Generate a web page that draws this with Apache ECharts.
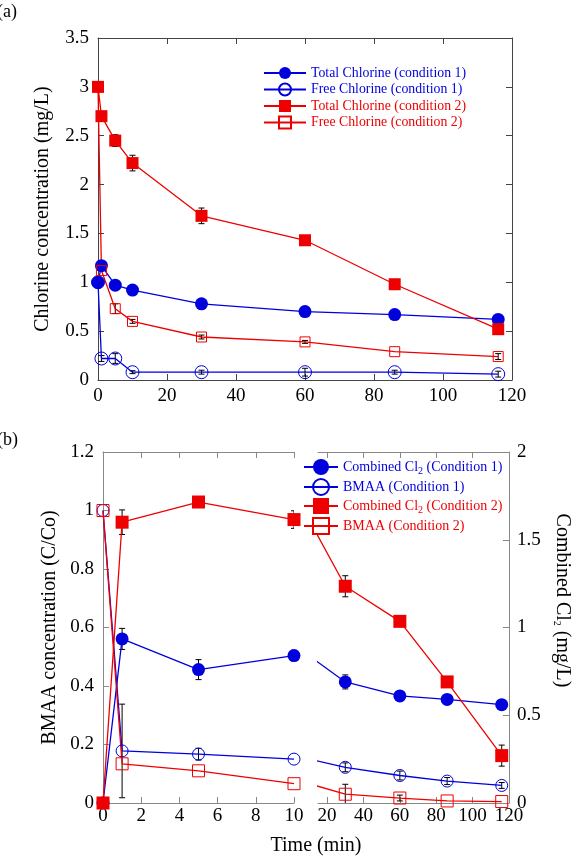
<!DOCTYPE html>
<html>
<head>
<meta charset="utf-8">
<script src="https://cdn.jsdelivr.net/npm/echarts@6/dist/echarts.min.js"></script>
<style>
  html, body { margin: 0; padding: 0; background: #fff; }
  #chart { width: 576px; height: 859px; }
</style>
</head>
<body>
<div id="chart"></div>
<script>
// ---- panel (a): chlorine decay ----
const timeA = [0, 1, 5, 10, 30, 60, 86, 116];
const totalCl1 = [1.0, 1.17, 0.97, 0.92, 0.78, 0.70, 0.67, 0.62];
const freeCl1 = [1.0, 0.22, 0.22, 0.08, 0.08, 0.08, 0.08, 0.06];
const totalCl2 = [3.0, 2.70, 2.45, 2.22, 1.68, 1.43, 0.98, 0.52];
const freeCl2 = [3.0, 1.12, 0.73, 0.60, 0.44, 0.39, 0.29, 0.24];
const errTotalCl1 = [0, 0, 0, 0, 0, 0, 0, 0];
const errFreeCl1 = [0, 0.03, 0.05, 0.015, 0.02, 0.04, 0.02, 0.03];
const errTotalCl2 = [0, 0, 0.06, 0.08, 0.08, 0.03, 0, 0];
const errFreeCl2 = [0, 0, 0.05, 0.02, 0.02, 0.015, 0, 0.03];

// ---- panel (b): BMAA and combined chlorine ----
const timeB = [0, 1, 5, 10, 30, 60, 86, 116];
const combCl1 = [0, 0.935, 0.76, 0.84, 0.69, 0.61, 0.59, 0.56];
const bmaa1 = [1.0, 0.178, 0.167, 0.15, 0.122, 0.094, 0.075, 0.06];
const combCl2 = [0, 1.60, 1.715, 1.615, 1.235, 1.035, 0.69, 0.27];
const bmaa2 = [1.0, 0.134, 0.11, 0.066, 0.03, 0.017, 0.007, 0.005];
const errCombCl1 = [0, 0.06, 0.057, 0.03, 0.04, 0, 0, 0];
const errBmaa1 = [0, 0.16, 0.02, 0, 0.015, 0.015, 0.012, 0.01];
const errCombCl2 = [0, 0.07, 0, 0.05, 0.06, 0.02, 0, 0.06];
const errBmaa2 = [0, 0, 0, 0, 0.034, 0.01, 0, 0];

const ticksBRight = [20, 40, 60, 80, 100, 120];

const BLUE = '#0000dd';
const RED = '#ee0000';
const FONT = 'Liberation Serif';
const AX_A = '#444';
const AX_B = '#888';

const myChart = echarts.init(document.getElementById('chart'));

// error bar drawing
function errRender(params, api) {
  const x = api.value(0);
  const lo = api.coord([x, api.value(1)]);
  const hi = api.coord([x, api.value(2)]);
  const w = 3;
  const st = { stroke: '#000', lineWidth: 1 };
  return {
    type: 'group',
    children: [
      { type: 'line', shape: { x1: lo[0], y1: lo[1], x2: hi[0], y2: hi[1] }, style: st },
      { type: 'line', shape: { x1: lo[0] - w, y1: lo[1], x2: lo[0] + w, y2: lo[1] }, style: st },
      { type: 'line', shape: { x1: hi[0] - w, y1: hi[1], x2: hi[0] + w, y2: hi[1] }, style: st }
    ]
  };
}

function pick(xs, ys, test) {
  const out = [];
  xs.forEach((x, i) => { if (test(x)) out.push([x, ys[i]]); });
  return out;
}

function errSeries(xs, ys, errs, xi, yi, test) {
  const data = [];
  xs.forEach((x, i) => {
    if (errs[i] > 0 && (!test || test(x))) data.push([x, ys[i] - errs[i], ys[i] + errs[i]]);
  });
  return {
    type: 'custom', xAxisIndex: xi, yAxisIndex: yi, z: 1, silent: true, clip: true,
    renderItem: errRender, encode: { x: 0, y: [1, 2] }, data: data
  };
}

// marker styles
function mk(kind, color, size) {
  const filled = kind === 'fc' || kind === 'fs';
  return {
    symbol: (kind === 'fc' || kind === 'oc') ? 'circle' : 'rect',
    symbolSize: size,
    itemStyle: filled ? { color: color } : { color: 'transparent', borderColor: color, borderWidth: 1 },
    lineStyle: { color: color, width: 1.3 }
  };
}

function lineS(name, data, xi, yi, style) {
  return Object.assign({
    type: 'line', name: name, data: data, xAxisIndex: xi, yAxisIndex: yi,
    clip: true, z: 2, animation: false
  }, style);
}

const L1 = x => x <= 10;
const R1 = x => x >= 10;

const series = [
  // panel (a)
  lineS('Total Chlorine (condition 1)', pick(timeA, totalCl1, () => true), 0, 0, mk('fc', BLUE, 13)),
  lineS('Free Chlorine (condition 1)', pick(timeA, freeCl1, () => true), 0, 0, mk('oc', BLUE, 13)),
  lineS('Total Chlorine (condition 2)', pick(timeA, totalCl2, () => true), 0, 0, mk('fs', RED, 12)),
  lineS('Free Chlorine (condition 2)', pick(timeA, freeCl2, () => true), 0, 0, mk('os', RED, 10)),
  errSeries(timeA, totalCl1, errTotalCl1, 0, 0),
  errSeries(timeA, freeCl1, errFreeCl1, 0, 0),
  errSeries(timeA, totalCl2, errTotalCl2, 0, 0),
  errSeries(timeA, freeCl2, errFreeCl2, 0, 0),

  // panel (b), left segment 0-10 min
  lineS('Combined Cl2 (Condition 1)', pick(timeB, combCl1, L1), 2, 3, mk('fc', BLUE, 13)),
  lineS('BMAA (Condition 1)', pick(timeB, bmaa1, L1), 2, 2, mk('oc', BLUE, 12)),
  lineS('Combined Cl2 (Condition 2)', pick(timeB, combCl2, L1), 2, 3, mk('fs', RED, 13)),
  lineS('BMAA (Condition 2)', pick(timeB, bmaa2, L1), 2, 2, mk('os', RED, 12)),
  errSeries(timeB, combCl1, errCombCl1, 2, 3, L1),
  errSeries(timeB, bmaa1, errBmaa1, 2, 2, L1),
  errSeries(timeB, combCl2, errCombCl2, 2, 3, L1),
  errSeries(timeB, bmaa2, errBmaa2, 2, 2, L1),

  // panel (b), right segment 20-120 min (line from 10 clipped at the break)
  lineS('Combined Cl2 (Condition 1)', pick(timeB, combCl1, R1), 4, 5, mk('fc', BLUE, 13)),
  lineS('BMAA (Condition 1)', pick(timeB, bmaa1, R1), 4, 4, mk('oc', BLUE, 12)),
  lineS('Combined Cl2 (Condition 2)', pick(timeB, combCl2, R1), 4, 5, mk('fs', RED, 13)),
  lineS('BMAA (Condition 2)', pick(timeB, bmaa2, R1), 4, 4, mk('os', RED, 12)),
  errSeries(timeB, combCl1, errCombCl1, 4, 5, x => x > 10),
  errSeries(timeB, bmaa1, errBmaa1, 4, 4, x => x > 10),
  errSeries(timeB, combCl2, errCombCl2, 4, 5, x => x > 10),
  errSeries(timeB, bmaa2, errBmaa2, 4, 4, x => x > 10)
];

function xAx(grid, pos, min, max, color, opts) {
  return Object.assign({
    type: 'value', gridIndex: grid, position: pos, min: min, max: max,
    axisLine: { show: true, onZero: false, lineStyle: { color: color, width: 1 } },
    axisTick: { show: true, inside: true, length: 6, lineStyle: { color: color } },
    axisLabel: { show: pos === 'bottom', color: '#000', fontFamily: FONT, fontSize: 19, margin: 6 },
    splitLine: { show: false }
  }, opts);
}

function yAx(grid, pos, min, max, interval, color, opts) {
  return Object.assign({
    type: 'value', gridIndex: grid, position: pos, min: min, max: max, interval: interval,
    axisLine: { show: true, onZero: false, lineStyle: { color: color, width: 1 } },
    axisTick: { show: true, inside: true, length: 6, lineStyle: { color: color } },
    axisLabel: { show: true, color: '#000', fontFamily: FONT, fontSize: 19, margin: 9 },
    splitLine: { show: false }
  }, opts);
}

const subRich = { sub: { fontSize: 10, fontFamily: FONT, verticalAlign: 'bottom', padding: [8, 0, 0, 0] } };

this.option = {
  animation: false,
  backgroundColor: '#fff',
  grid: [
    { left: 98, top: 38, width: 414, height: 342 },
    { left: 103, top: 452, width: 191, height: 351 },
    { left: 318, top: 452, width: 191, height: 351 }
  ],
  xAxis: [
    xAx(0, 'bottom', 0, 120, AX_A, { interval: 20, axisLabel: { color: '#000', fontFamily: FONT, fontSize: 19, margin: 7 } }),
    xAx(0, 'top', 0, 120, AX_A, { interval: 20 }),
    xAx(1, 'bottom', 0, 10, AX_B, { interval: 2, axisLabel: { color: '#000', fontFamily: FONT, fontSize: 19, margin: 4 } }),
    xAx(1, 'top', 0, 10, AX_B, { interval: 2 }),
    xAx(2, 'bottom', 15, 120, AX_B, {
      axisTick: { show: true, inside: true, length: 6, lineStyle: { color: AX_B }, customValues: ticksBRight },
      axisLabel: { color: '#000', fontFamily: FONT, fontSize: 19, margin: 4, customValues: ticksBRight }
    }),
    xAx(2, 'top', 15, 120, AX_B, {
      axisTick: { show: true, inside: true, length: 6, lineStyle: { color: AX_B }, customValues: ticksBRight }
    })
  ],
  yAxis: [
    yAx(0, 'left', 0, 3.5, 0.5, AX_A, {
      name: 'Chlorine concentration (mg/L)', nameLocation: 'middle', nameGap: 45,
      nameTextStyle: { fontFamily: FONT, fontSize: 20, color: '#000' }
    }),
    yAx(0, 'right', 0, 3.5, 0.5, AX_A, { axisLabel: { show: false } }),
    yAx(1, 'left', 0, 1.2, 0.2, AX_B, {
      name: 'BMAA concentration (C/Co)', nameLocation: 'middle', nameGap: 43,
      nameTextStyle: { fontFamily: FONT, fontSize: 20, color: '#000' }
    }),
    yAx(1, 'right', 0, 2, 0.5, AX_B, { show: false }),
    yAx(2, 'left', 0, 1.2, 0.2, AX_B, { show: false }),
    yAx(2, 'right', 0, 2, 0.5, AX_B, {
      axisLabel: { show: true, color: '#000', fontFamily: FONT, fontSize: 19, margin: 8 },
      name: 'Combined Cl{sub|2} (mg/L)', nameLocation: 'middle', nameGap: 43, nameRotate: -90,
      nameTextStyle: { fontFamily: FONT, fontSize: 20, color: '#000', padding: [0, 54, 0, 0], rich: subRich }
    })
  ],
  legend: [
    {
      left: 258, top: 61, orient: 'vertical', itemWidth: 42, itemHeight: 15, itemGap: 2.5,
      textStyle: { fontFamily: FONT, fontSize: 13.8 },
      data: [
        { name: 'Total Chlorine (condition 1)', textStyle: { color: BLUE } },
        { name: 'Free Chlorine (condition 1)', textStyle: { color: BLUE } },
        { name: 'Total Chlorine (condition 2)', textStyle: { color: RED } },
        { name: 'Free Chlorine (condition 2)', textStyle: { color: RED } }
      ]
    },
    {
      left: 298, top: 454, orient: 'vertical', itemWidth: 34, itemHeight: 20, itemGap: 2,
      textStyle: { fontFamily: FONT, fontSize: 14, rich: subRich },
      formatter: name => name.replace('Cl2', 'Cl{sub|2}'),
      data: [
        { name: 'Combined Cl2 (Condition 1)', textStyle: { color: BLUE } },
        { name: 'BMAA (Condition 1)', textStyle: { color: BLUE } },
        { name: 'Combined Cl2 (Condition 2)', textStyle: { color: RED } },
        { name: 'BMAA (Condition 2)', textStyle: { color: RED } }
      ]
    }
  ],
  graphic: [
    { type: 'text', x: -3, y: 3, style: { text: '(a)', fontFamily: FONT, fontSize: 18, fill: '#000' } },
    { type: 'text', x: -3, y: 431, style: { text: '(b)', fontFamily: FONT, fontSize: 18, fill: '#000' } },
    { type: 'text', x: 316, y: 846, style: { text: 'Time (min)', fontFamily: FONT, fontSize: 20, fill: '#000', align: 'center', verticalAlign: 'middle' } }
  ],
  series: series
};

myChart.setOption(this.option, true);
window.addEventListener('resize', () => {
  myChart.resize();
});
</script>
</body>
</html>
